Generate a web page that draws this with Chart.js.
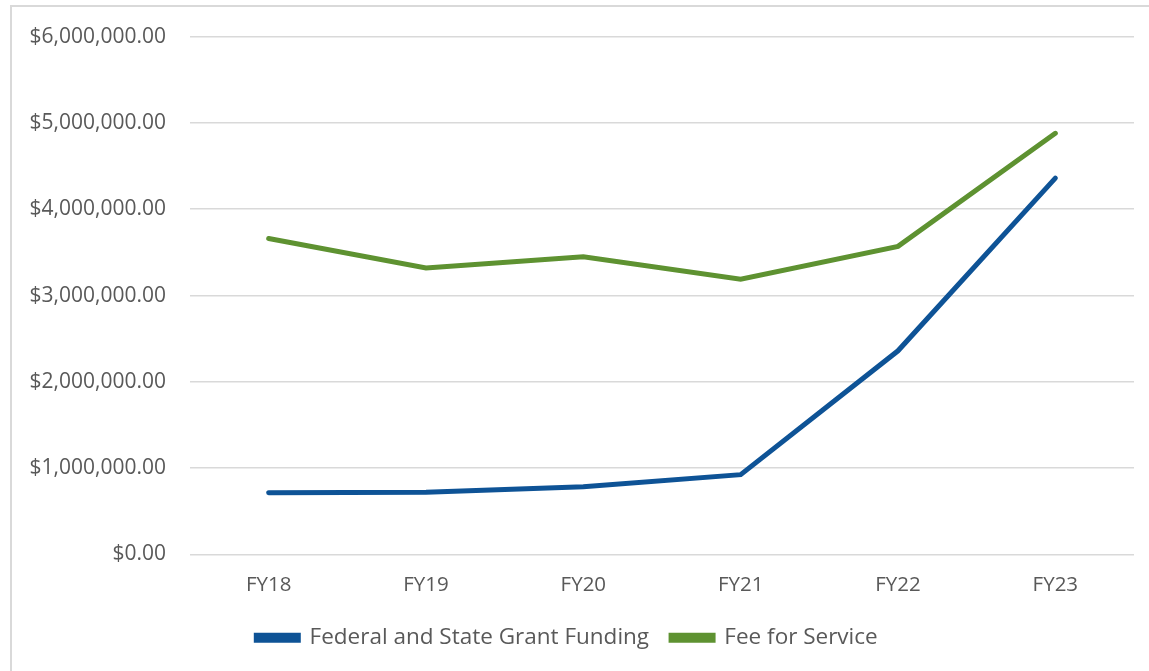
<!DOCTYPE html>
<html>
<head>
<meta charset="utf-8">
<script src="https://cdn.jsdelivr.net/npm/chart.js@4.4.0/dist/chart.umd.min.js"></script>
<style>
  body { margin: 0; background: #fff; }
  #frame { position: absolute; left: 10px; top: 5px; width: 1160px; height: 690px; border: 2px solid #d9d9d9; box-sizing: border-box; }
  #wrap { position: absolute; left: 0; top: 0; width: 1149px; height: 671px; }
</style>
</head>
<body>
<div id="frame"></div>
<div id="wrap"><canvas id="myChart"></canvas></div>
<script>
// data
let years = ['FY18', 'FY19', 'FY20', 'FY21', 'FY22', 'FY23'];
let grantFunding = [715000, 720000, 785000, 925000, 2360000, 4360000];
let feeForService = [3660000, 3320000, 3450000, 3190000, 3570000, 4880000];

let textColor = '#595959';
let fontFamily = '"Open Sans", sans-serif';

let ctx = document.getElementById('myChart').getContext('2d');
let myChart = new Chart(ctx, {
  type: 'line',
  data: {
    labels: years,
    datasets: [{
      label: 'Federal and State Grant Funding',
      data: grantFunding,
      borderColor: '#0e5396',
      backgroundColor: '#0e5396',
      borderWidth: 5,
      borderCapStyle: 'round',
      pointRadius: 0,
      fill: false
    }, {
      label: 'Fee for Service',
      data: feeForService,
      borderColor: '#5e9231',
      backgroundColor: '#5e9231',
      borderWidth: 5,
      borderCapStyle: 'round',
      pointRadius: 0,
      fill: false
    }]
  },
  options: {
    responsive: true,
    maintainAspectRatio: false,
    animation: false,
    layout: { padding: { top: 19, right: 15, bottom: 12, left: 0 } },
    plugins: {
      tooltip: { enabled: false },
      legend: {
        position: 'bottom',
        labels: {
          color: textColor,
          font: { family: fontFamily, size: 22.5 },
          boxWidth: 42,
          boxHeight: 5,
          padding: 22
        }
      }
    },
    scales: {
      x: {
        offset: true,
        grid: { display: false, drawTicks: false },
        border: { display: false },
        ticks: { color: textColor, font: { family: fontFamily, size: 20.5 }, padding: 18 },
        afterFit: s => { s.height = 50; }
      },
      y: {
        min: 0,
        max: 6000000,
        grid: { color: '#d9d9d9', lineWidth: 1.5, drawTicks: false },
        border: { display: false },
        ticks: {
          stepSize: 1000000,
          color: textColor,
          font: { family: fontFamily, size: 21 },
          padding: 24,
          callback: v => '$' + v.toLocaleString('en-US', { minimumFractionDigits: 2, maximumFractionDigits: 2 })
        },
        afterFit: s => { s.width = 190; }
      }
    }
  }
});
</script>
</body>
</html>
